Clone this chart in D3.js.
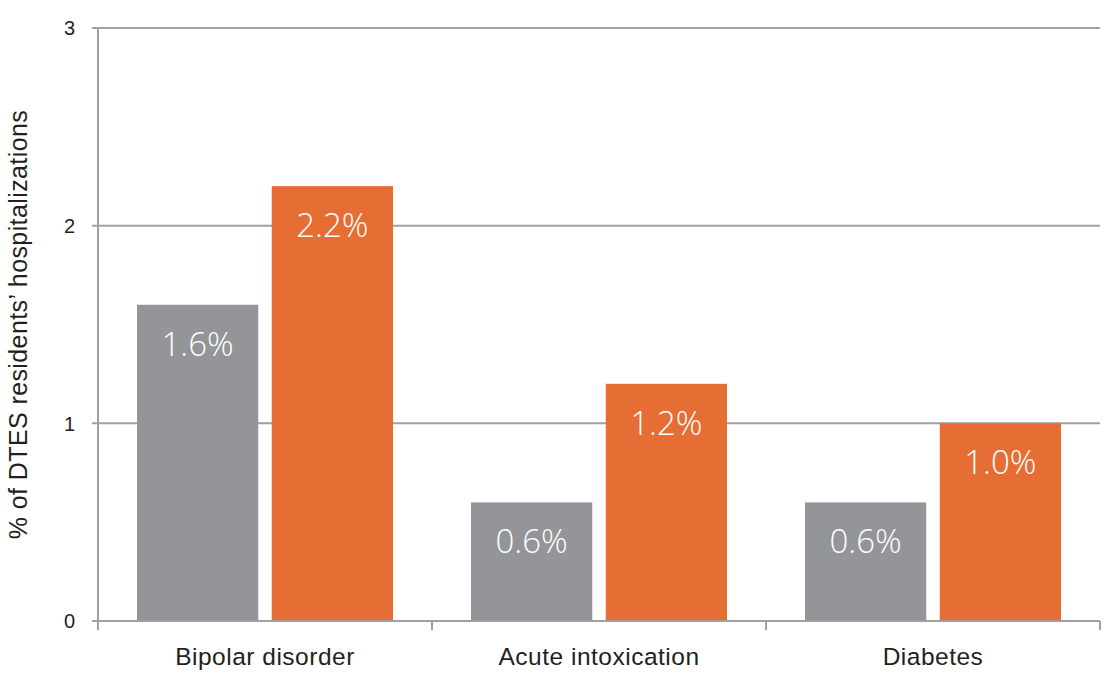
<!DOCTYPE html>
<html>
<head>
<meta charset="utf-8">
<script src="https://cdn.jsdelivr.net/npm/d3@7"></script>
<style>
  html, body { margin: 0; padding: 0; background: #fff; }
  svg { display: block; }
</style>
</head>
<body>
<svg id="chart" width="1105" height="673"></svg>
<script>
// Hospitalization shares by condition, two groups per condition
const categories = ["Bipolar disorder", "Acute intoxication", "Diabetes"];
const seriesNames = ["Comparison", "DTES residents"];
const comparisonValues = [1.6, 0.6, 0.6];
const dtesValues = [2.2, 1.2, 1.0];
const yTicks = [0, 1, 2, 3];
const yTitle = "% of DTES residents\u2019 hospitalizations";

const colors = { "Comparison": "#939598", "DTES residents": "#e66e34" };
const gridColor = "#a0a0a3";

const svg = d3.select("#chart");
const plotLeft = 98, plotRight = 1100, plotTop = 28, plotBottom = 621;

const x0 = d3.scaleBand().domain(categories).range([plotLeft, plotRight]).paddingInner(0).paddingOuter(0);
const x1 = d3.scaleBand().domain(seriesNames).range([39, x0.bandwidth() - 39]).paddingInner(0.1);
const y = d3.scaleLinear().domain([0, 3]).range([plotBottom, plotTop]);

const rows = categories.map((c, i) => ({
  category: c,
  values: [
    { key: seriesNames[0], value: comparisonValues[i] },
    { key: seriesNames[1], value: dtesValues[i] }
  ]
}));

// horizontal gridlines with short outward ticks
svg.append("g")
  .selectAll("line")
  .data(yTicks)
  .join("line")
  .attr("x1", plotLeft - 6)
  .attr("x2", plotRight)
  .attr("y1", d => y(d))
  .attr("y2", d => y(d))
  .attr("stroke", gridColor)
  .attr("stroke-width", 2);

// y tick labels
svg.append("g")
  .selectAll("text")
  .data(yTicks)
  .join("text")
  .attr("x", 75)
  .attr("y", d => y(d))
  .attr("dy", "0.36em")
  .attr("text-anchor", "end")
  .attr("font-family", "Liberation Sans, Arial, sans-serif")
  .attr("font-size", 20)
  .attr("fill", "#231f20")
  .text(d => d);

// bars
const groups = svg.append("g")
  .selectAll("g")
  .data(rows)
  .join("g")
  .attr("transform", d => `translate(${x0(d.category)},0)`);

groups.selectAll("rect")
  .data(d => d.values)
  .join("rect")
  .attr("x", d => x1(d.key))
  .attr("width", x1.bandwidth())
  .attr("y", d => y(d.value))
  .attr("height", d => y(0) - y(d.value))
  .attr("fill", d => colors[d.key]);

groups.selectAll("text")
  .data(d => d.values)
  .join("text")
  .attr("x", d => x1(d.key) + x1.bandwidth() / 2)
  .attr("y", d => y(d.value) + 51)
  .attr("text-anchor", "middle")
  .attr("font-family", "Open Sans, Lato, sans-serif")
  .attr("font-weight", 300)
  .attr("font-size", 33)
  .attr("fill", "#ffffff")
  .text(d => d.value.toFixed(1) + "%");

// y axis line
svg.append("line")
  .attr("x1", plotLeft).attr("x2", plotLeft)
  .attr("y1", plotTop).attr("y2", plotBottom + 9)
  .attr("stroke", gridColor)
  .attr("stroke-width", 2);

// x axis baseline and category boundary ticks
svg.append("line")
  .attr("x1", plotLeft - 6).attr("x2", plotRight)
  .attr("y1", plotBottom).attr("y2", plotBottom)
  .attr("stroke", gridColor)
  .attr("stroke-width", 2);

const boundaries = categories.map(c => x0(c)).concat([x0(categories[categories.length - 1]) + x0.bandwidth()]);
svg.append("g")
  .selectAll("line")
  .data(boundaries)
  .join("line")
  .attr("x1", d => d).attr("x2", d => d)
  .attr("y1", plotBottom).attr("y2", plotBottom + 9)
  .attr("stroke", gridColor)
  .attr("stroke-width", 2);

// category labels
svg.append("g")
  .selectAll("text")
  .data(categories)
  .join("text")
  .attr("x", d => x0(d) + x0.bandwidth() / 2)
  .attr("y", 665)
  .attr("text-anchor", "middle")
  .attr("font-family", "Liberation Sans, Arial, sans-serif")
  .attr("font-size", 24.5)
  .attr("letter-spacing", 0.5)
  .attr("fill", "#231f20")
  .text(d => d);

// y axis title
svg.append("text")
  .attr("transform", `translate(27,${(plotTop + plotBottom) / 2}) rotate(-90)`)
  .attr("text-anchor", "middle")
  .attr("font-family", "Liberation Sans, Arial, sans-serif")
  .attr("font-size", 25)
  .attr("letter-spacing", 0.4)
  .attr("fill", "#231f20")
  .text(yTitle);
</script>
</body>
</html>
